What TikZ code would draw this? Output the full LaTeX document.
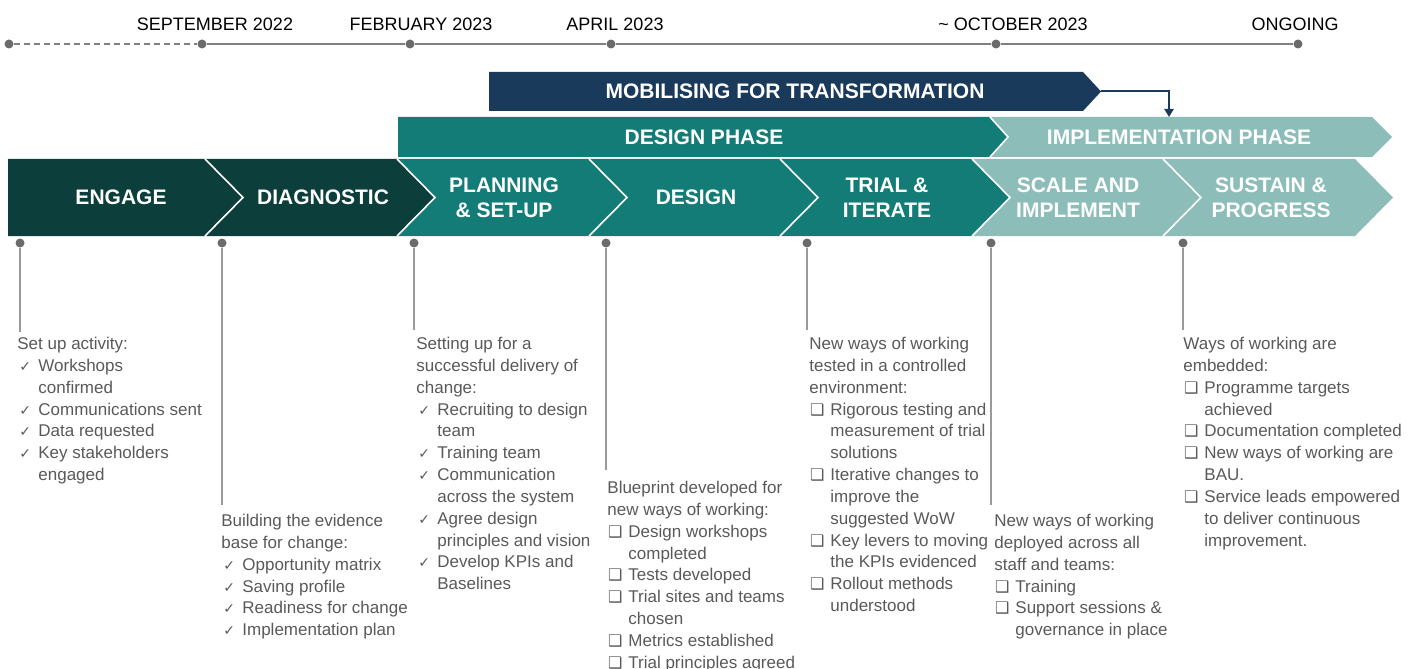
\documentclass[tikz,border=0pt]{standalone}
\usepackage{fontspec}
\setmainfont{Liberation Sans}
\newfontfamily\symf{DejaVu Sans}
\usetikzlibrary{arrows.meta}
\definecolor{dkgreen}{HTML}{0C3F3C}
\definecolor{tealmid}{HTML}{147C77}
\definecolor{ltteal}{HTML}{8DBDB8}
\definecolor{navy}{HTML}{1A3A5C}
\definecolor{txtgray}{HTML}{595959}
\definecolor{tlgray}{HTML}{808080}
\definecolor{dotgray}{HTML}{6B6B6B}
\definecolor{vgray}{HTML}{9A9A9A}
\newcommand{\ckitem}[1]{\par\hangindent=10.5pt\hangafter=1\noindent\makebox[10.5pt][l]{\kern1pt{\symf\fontsize{7}{10.92}\selectfont ✓}}#1}
\newcommand{\bxitem}[1]{\par\hangindent=10.5pt\hangafter=1\noindent\makebox[10.5pt][l]{\kern0.3pt{\symf\fontsize{8}{10.92}\selectfont ❑}}#1}
\newcommand{\blk}[1]{\parbox[t]{180pt}{\raggedright\fontsize{8.5}{10.92}\selectfont #1}}
\tikzset{
  chev/.style={text=white, font=\fontsize{10.5}{12.5}\selectfont\bfseries, align=center, inner sep=0pt},
  datelbl/.style={text=black, font=\fontsize{9}{11}\selectfont, inner sep=0pt},
  tdot/.style={circle, fill=dotgray, minimum size=4.5pt, inner sep=0pt},
  tline/.style={draw=tlgray, line width=1pt},
  vline/.style={draw=vgray, line width=0.6pt},
  blocktext/.style={anchor=base west, inner sep=0pt, text=txtgray},
  sep/.style={draw=white, line width=0.8pt},
  flow/.style={draw=navy, line width=1pt, -{Triangle[length=4pt,width=4.5pt]}}
}
\begin{document}
\begin{tikzpicture}[x=0.5pt,y=-0.5pt]
\useasboundingbox (0,0) rectangle (1416,668);

% timeline
\node[tdot] (t0) at (9,44) {};
\node[tdot] (t1) at (202,44) {};
\node[tdot] (t2) at (410,44) {};
\node[tdot] (t3) at (611,44) {};
\node[tdot] (t4) at (996,44) {};
\node[tdot] (t5) at (1298,44) {};
\draw[tline, dash pattern=on 3pt off 2pt] (t0) -- (t1);
\draw[tline] (t1) -- (t2);
\draw[tline] (t2) -- (t3);
\draw[tline] (t3) -- (t4);
\draw[tline] (t4) -- (t5);
\node[datelbl] (l1) at (215,24) {SEPTEMBER 2022};
\node[datelbl] (l2) at (421,24) {FEBRUARY 2023};
\node[datelbl] (l3) at (615,24) {APRIL 2023};
\node[datelbl] (l4) at (1013,24) {\char`~\ OCTOBER 2023};
\node[datelbl] (l5) at (1295,24) {ONGOING};

% mobilising bar
\fill[navy] (489,72) -- (1083,72) -- (1101,91.5) -- (1083,111) -- (489,111) -- cycle;
\coordinate (mobtip) at (1101,91.5);
\coordinate (impltop) at (1169,117);
\draw[flow] (mobtip) -| (impltop);
\node[chev] (mob) at (795,91.5) {MOBILISING FOR TRANSFORMATION};

% phase bars
\fill[tealmid] (398,117) -- (990,117) -- (1008,137) -- (990,157) -- (398,157) -- cycle;
\fill[ltteal] (990,117) -- (1372,117) -- (1392,137) -- (1372,157) -- (990,157) -- (1008,137) -- cycle;
\draw[sep] (990,117) -- (1008,137) -- (990,157);
\node[chev] (dp) at (704,137) {DESIGN PHASE};
\node[chev] (ip) at (1179,137) {IMPLEMENTATION PHASE};

% chevrons
\fill[dkgreen] (8,159) -- (205,159) -- (243,197.5) -- (205,236) -- (8,236) -- cycle;
\fill[dkgreen] (205,159) -- (397,159) -- (435,197.5) -- (397,236) -- (205,236) -- (243,197.5) -- cycle;
\fill[tealmid] (397,159) -- (589,159) -- (627,197.5) -- (589,236) -- (397,236) -- (435,197.5) -- cycle;
\fill[tealmid] (589,159) -- (780,159) -- (818,197.5) -- (780,236) -- (589,236) -- (627,197.5) -- cycle;
\fill[tealmid] (780,159) -- (972,159) -- (1010,197.5) -- (972,236) -- (780,236) -- (818,197.5) -- cycle;
\fill[ltteal] (972,159) -- (1163,159) -- (1201,197.5) -- (1163,236) -- (972,236) -- (1010,197.5) -- cycle;
\fill[ltteal] (1163,159) -- (1355,159) -- (1393,197.5) -- (1355,236) -- (1163,236) -- (1201,197.5) -- cycle;
\draw[sep] (205,159) -- (243,197.5) -- (205,236);
\draw[sep] (397,159) -- (435,197.5) -- (397,236);
\draw[sep] (589,159) -- (627,197.5) -- (589,236);
\draw[sep] (780,159) -- (818,197.5) -- (780,236);
\draw[sep] (972,159) -- (1010,197.5) -- (972,236);
\draw[sep] (1163,159) -- (1201,197.5) -- (1163,236);

\node[chev] (c1) at (121,197.5) {ENGAGE};
\node[chev] (c2) at (323,197.5) {DIAGNOSTIC};
\node[chev] (c3) at (504,197.5) {PLANNING\\\& SET-UP};
\node[chev] (c4) at (696,197.5) {DESIGN};
\node[chev] (c5) at (887,197.5) {TRIAL \&\\ITERATE};
\node[chev] (c6) at (1078,197.5) {SCALE AND\\IMPLEMENT};
\node[chev] (c7) at (1271,197.5) {SUSTAIN \&\\PROGRESS};

% drop lines
\node[tdot] (d1) at (20,243) {};
\node[tdot] (d2) at (222,243) {};
\node[tdot] (d3) at (414,243) {};
\node[tdot] (d4) at (606,243) {};
\node[tdot] (d5) at (807,243) {};
\node[tdot] (d6) at (991,243) {};
\node[tdot] (d7) at (1183,243) {};
\coordinate (e1) at (20,332);
\coordinate (e2) at (222,505);
\coordinate (e3) at (414,330);
\coordinate (e4) at (606,470);
\coordinate (e5) at (807,330);
\coordinate (e6) at (991,505);
\coordinate (e7) at (1183,330);
\draw[vline] (d1) -- (e1);
\draw[vline] (d2) -- (e2);
\draw[vline] (d3) -- (e3);
\draw[vline] (d4) -- (e4);
\draw[vline] (d5) -- (e5);
\draw[vline] (d6) -- (e6);
\draw[vline] (d7) -- (e7);

% text blocks
\node[blocktext] (b1) at (17,349.5) {\blk{Set up activity:
\ckitem{Workshops\newline confirmed}
\ckitem{Communications sent}
\ckitem{Data requested}
\ckitem{Key stakeholders\newline engaged}}};

\node[blocktext] (b2) at (221,526.5) {\blk{Building the evidence\newline base for change:
\ckitem{Opportunity matrix}
\ckitem{Saving profile}
\ckitem{Readiness for change}
\ckitem{Implementation plan}}};

\node[blocktext] (b3) at (416,349.5) {\blk{Setting up for a\newline successful delivery of\newline change:
\ckitem{Recruiting to design\newline team}
\ckitem{Training team}
\ckitem{Communication\newline across the system}
\ckitem{Agree design\newline principles and vision}
\ckitem{Develop KPIs and\newline Baselines}}};

\node[blocktext] (b4) at (607,493.5) {\blk{Blueprint developed for\newline new ways of working:
\bxitem{Design workshops\newline completed}
\bxitem{Tests developed}
\bxitem{Trial sites and teams\newline chosen}
\bxitem{Metrics established}
\bxitem{Trial principles agreed}}};

\node[blocktext] (b5) at (809,349.5) {\blk{New ways of working\newline tested in a controlled\newline environment:
\bxitem{Rigorous testing and\newline measurement of trial\newline solutions}
\bxitem{Iterative changes to\newline improve the\newline suggested WoW}
\bxitem{Key levers to moving\newline the KPIs evidenced}
\bxitem{Rollout methods\newline understood}}};

\node[blocktext] (b6) at (994,526.5) {\blk{New ways of working\newline deployed across all\newline staff and teams:
\bxitem{Training}
\bxitem{Support sessions \&\newline governance in place}}};

\node[blocktext] (b7) at (1183,349.5) {\blk{Ways of working are\newline embedded:
\bxitem{Programme targets\newline achieved}
\bxitem{Documentation completed}
\bxitem{New ways of working are\newline BAU.}
\bxitem{Service leads empowered\newline to deliver continuous\newline improvement.}}};
\end{tikzpicture}
\end{document}
